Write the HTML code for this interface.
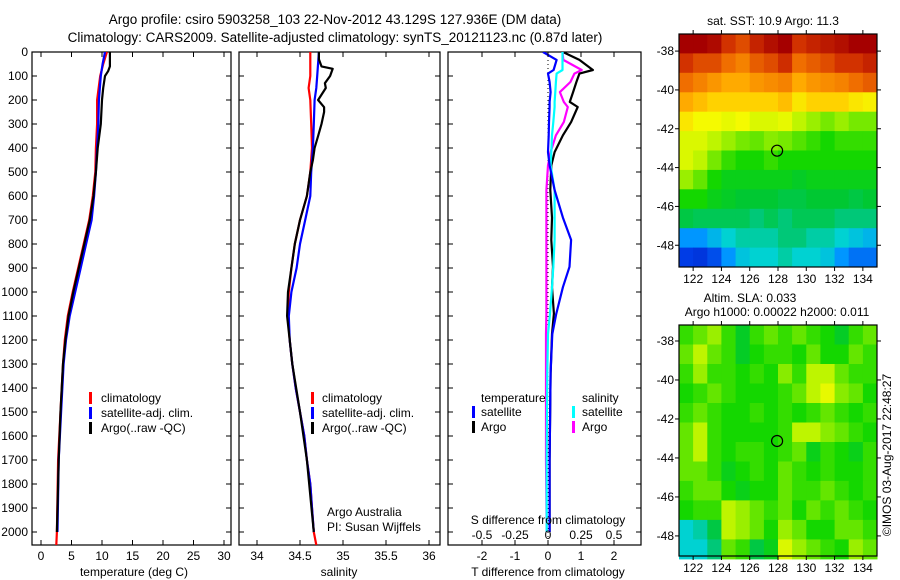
<!DOCTYPE html>
<html><head><meta charset="utf-8">
<style>
html,body{margin:0;padding:0;background:#fff;}
svg{display:block;font-family:"Liberation Sans",sans-serif;}
text{fill:#000;}
</style></head>
<body>
<svg id="fig" width="900" height="580" viewBox="0 0 900 580" xmlns="http://www.w3.org/2000/svg">
<text x="335" y="24" font-size="13.5" text-anchor="middle">Argo profile: csiro 5903258_103 22-Nov-2012 43.129S 127.936E (DM data)</text>
<text x="335" y="42" font-size="13.5" text-anchor="middle">Climatology: CARS2009. Satellite-adjusted climatology: synTS_20121123.nc (0.87d later)</text>
<text x="773" y="25" font-size="12" text-anchor="middle">sat. SST: 10.9 Argo: 11.3</text>
<text x="750" y="302" font-size="12" text-anchor="middle">Altim. SLA: 0.033</text>
<text x="777" y="316" font-size="12" text-anchor="middle">Argo h1000: 0.00022 h2000: 0.011</text>
<text x="0" y="0" font-size="12" text-anchor="middle" transform="translate(891,455) rotate(-90)">©IMOS 03-Aug-2017 22:48:27</text>
<g id="plots"></g>
</svg>
<script>
// ---- data ----
const depthTicks = [0,100,200,300,400,500,600,700,800,900,1000,1100,1200,1300,1400,1500,1600,1700,1800,1900,2000];
const tTicks = [0,5,10,15,20,25,30];
const sTicks = [34,34.5,35,35.5,36];
const dTTicks = [-2,-1,0,1,2];
const dSTicks = [-0.5,-0.25,0,0.25,0.5];
const dSTickLabels = ["-0.5","-0.25","0","0.25","0.5"];
const lonTicks = [122,124,126,128,130,132,134];
const latTicks = [-38,-40,-42,-44,-46,-48];

const tClimDepth = [0,50,100,200,300,400,500,600,700,800,900,1000,1100,1200,1300,1500,1700,2000,2054];
const tClim      = [10.8,10.2,9.7,9.2,9.2,9.0,8.9,8.5,7.9,7.0,6.1,5.2,4.4,3.9,3.6,3.2,2.8,2.6,2.5];
const tSat       = [10.5,10.1,9.8,9.5,9.4,9.2,9.0,8.7,8.3,7.4,6.5,5.6,4.7,4.1,3.7,3.3,2.9,2.7,2.7];
const tArgoDepth = [0,60,80,100,150,200,300,400,500,600,700,800,900,1000,1100,1200,1300,1500,1700,2000];
const tArgo      = [11.3,11.3,11.0,10.5,10.2,10.0,9.8,9.3,9.0,8.6,8.0,7.1,6.2,5.3,4.5,4.0,3.6,3.2,2.9,2.6];

const sClimDepth = [0,100,150,200,300,400,500,600,700,800,900,1000,1100,1200,1300,1400,1500,1600,1700,1800,1900,2000,2054];
const sClim      = [34.62,34.62,34.60,34.62,34.63,34.64,34.62,34.58,34.50,34.44,34.40,34.37,34.36,34.38,34.41,34.45,34.50,34.55,34.58,34.62,34.64,34.66,34.69];
const sSat       = [34.72,34.70,34.69,34.67,34.66,34.65,34.63,34.62,34.56,34.50,34.46,34.40,34.37,34.38,34.41,34.45,34.50,34.55,34.58,34.62,34.64,34.66,34.66];
const sArgoDepth = [0,30,60,70,100,130,150,200,230,250,300,350,400,450,500,600,700,800,900,1000,1100,1200,1300,1500,1700,2000];
const sArgo      = [34.72,34.72,34.75,34.88,34.85,34.79,34.80,34.71,34.78,34.78,34.75,34.71,34.67,34.65,34.62,34.58,34.50,34.44,34.40,34.36,34.35,34.38,34.41,34.50,34.58,34.66];

const dDepth   = [0,33,75,90,125,167,208,229,292,347,417,472,575,690,783,895,980,1090,1175,1337,1700,2000];
const dTSat    = [-0.15,0.26,0.17,0.0,0.05,0.08,0.05,0.05,0.03,0.02,0.0,0.05,0.2,0.45,0.7,0.65,0.45,0.25,0.13,0.08,0.05,0.05];
const dTArgo   = [0.45,0.95,1.36,0.95,0.86,0.76,0.66,0.9,0.7,0.45,0.2,0.1,0.07,0.12,0.1,0.15,0.12,0.18,0.12,0.08,0.05,0.05];
const dSSat    = [0.11,0.11,0.11,0.065,0.06,0.055,0.05,0.05,0.04,0.03,0.025,0.02,0.05,0.05,0.05,0.04,0.03,0.015,0.0,-0.005,-0.01,-0.01];
const dSArgo   = [0.11,0.116,0.255,0.2,0.17,0.09,0.12,0.15,0.12,0.06,0.02,0.0,-0.012,-0.012,-0.012,-0.012,-0.012,-0.012,-0.015,-0.015,-0.015,-0.01];

const sstGrid = [
[0.95,0.95,0.93,0.85,0.82,0.88,0.92,0.95,0.85,0.88,0.9,0.92,0.95,0.95],
[0.85,0.82,0.82,0.78,0.76,0.8,0.82,0.86,0.78,0.8,0.82,0.85,0.85,0.88],
[0.78,0.76,0.74,0.72,0.72,0.74,0.75,0.76,0.72,0.74,0.75,0.76,0.78,0.8],
[0.72,0.7,0.68,0.68,0.68,0.68,0.68,0.7,0.66,0.68,0.68,0.68,0.66,0.65],
[0.66,0.64,0.64,0.63,0.64,0.62,0.62,0.63,0.6,0.58,0.56,0.58,0.56,0.56],
[0.62,0.62,0.6,0.58,0.56,0.55,0.57,0.56,0.54,0.52,0.5,0.52,0.52,0.52],
[0.62,0.6,0.56,0.52,0.5,0.5,0.52,0.5,0.5,0.5,0.5,0.5,0.5,0.5],
[0.58,0.55,0.5,0.48,0.48,0.48,0.48,0.48,0.47,0.48,0.48,0.48,0.48,0.48],
[0.5,0.5,0.48,0.47,0.46,0.46,0.46,0.45,0.45,0.46,0.46,0.46,0.45,0.46],
[0.45,0.44,0.44,0.44,0.44,0.42,0.44,0.42,0.44,0.44,0.44,0.42,0.42,0.42],
[0.3,0.3,0.34,0.38,0.4,0.4,0.4,0.42,0.42,0.4,0.4,0.38,0.36,0.34],
[0.2,0.18,0.22,0.3,0.36,0.38,0.38,0.4,0.38,0.38,0.36,0.3,0.26,0.26]];
const slaGrid = [
[0.52,0.55,0.58,0.52,0.47,0.52,0.55,0.52,0.55,0.52,0.5,0.47,0.52,0.55],
[0.55,0.6,0.55,0.52,0.47,0.5,0.52,0.52,0.5,0.55,0.5,0.5,0.55,0.52],
[0.52,0.58,0.52,0.52,0.5,0.52,0.5,0.57,0.52,0.6,0.6,0.55,0.52,0.52],
[0.5,0.52,0.55,0.52,0.5,0.5,0.5,0.52,0.55,0.6,0.63,0.57,0.55,0.5],
[0.52,0.55,0.52,0.5,0.5,0.52,0.5,0.52,0.5,0.52,0.55,0.52,0.5,0.52],
[0.55,0.6,0.52,0.5,0.5,0.5,0.5,0.52,0.6,0.6,0.57,0.55,0.52,0.5],
[0.55,0.6,0.52,0.5,0.52,0.52,0.5,0.52,0.55,0.48,0.52,0.5,0.48,0.52],
[0.55,0.55,0.52,0.48,0.5,0.52,0.5,0.55,0.52,0.5,0.52,0.5,0.5,0.52],
[0.52,0.55,0.55,0.5,0.48,0.5,0.5,0.55,0.52,0.52,0.55,0.52,0.5,0.52],
[0.5,0.52,0.52,0.6,0.58,0.55,0.52,0.55,0.5,0.55,0.52,0.55,0.52,0.5],
[0.38,0.4,0.45,0.6,0.58,0.55,0.5,0.58,0.55,0.5,0.5,0.55,0.55,0.52],
[0.38,0.38,0.42,0.55,0.52,0.45,0.48,0.62,0.58,0.55,0.52,0.5,0.58,0.55]];
const argoLon = 127.936, argoLat = -43.129;

// ---- drawing ----
const NS='http://www.w3.org/2000/svg';
const root=document.getElementById('plots');
function mk(tag,attrs,parent){const e=document.createElementNS(NS,tag);for(const k in attrs)e.setAttribute(k,attrs[k]);(parent||root).appendChild(e);return e;}
function txt(s,x,y,anchor,size,parent){const t=mk('text',{x:x,y:y,'text-anchor':anchor||'middle','font-size':size||12},parent);t.textContent=s;return t;}

const TOP=52, BOT=545;
const yD = d => TOP + d*0.24;
function panel(name,x0,x1){
  const g=mk('g',{});
  
  
  const r=mk('rect',{x:x0,y:TOP,width:x1-x0,height:BOT-TOP,fill:'none',stroke:'#000','stroke-width':1.2},g);
  
  
  depthTicks.forEach(d=>{
    mk('line',{x1:x0,x2:x0+5,y1:yD(d),y2:yD(d),stroke:'#000'},g);
    mk('line',{x1:x1-5,x2:x1,y1:yD(d),y2:yD(d),stroke:'#000'},g);
  });
  const cid='clip-'+name;
  const cp=mk('clipPath',{id:cid},g);
  mk('rect',{x:x0,y:TOP,width:x1-x0,height:BOT-TOP},cp);
  const inner=mk('g',{'clip-path':'url(#'+cid+')'},g);
  return {g,inner};
}
function xTicks(g,vals,labels,xf,yLab){
  vals.forEach((v,i)=>{
    const x=xf(v);
    mk('line',{x1:x,x2:x,y1:TOP,y2:TOP+5,stroke:'#000'},g);
    mk('line',{x1:x,x2:x,y1:BOT-5,y2:BOT,stroke:'#000'},g);
    const t=txt(labels?labels[i]:String(v),x,yLab,'middle',12,g);
    
    
  });
}
function line(parent,name,xs,ds,xf,color){
  const pts=xs.map((v,i)=>xf(v).toFixed(1)+','+yD(ds[i]).toFixed(1)).join(' ');
  const p=mk('polyline',{points:pts,fill:'none',stroke:color,'stroke-width':2.2,'stroke-linejoin':'round'},parent);
  
  
}
function legendEntry(parent,name,label,color,bx,tx,y){
  const g=mk('g',{},parent);
  
  
  mk('rect',{x:bx,y:y-10,width:3,height:12,fill:color},g);
  txt(label,tx,y,'start',12,g);
}

depthTicks.forEach(d=>{
  const t=txt(String(d),28,yD(d)+4,'end',12);
  
  
});

// Panel 1: temperature
const xT = v => 41 + v*6.1;
const p1=panel('temperature-panel',32,231);
xTicks(p1.g,tTicks,null,xT,560);
const xl1=txt('temperature (deg C)',134,576,'middle',12);


line(p1.inner,'temp-climatology-line',tClim,tClimDepth,xT,'#f00');
line(p1.inner,'temp-satellite-line',tSat.slice(0,-1),tClimDepth.slice(0,-1),xT,'#00f');
line(p1.inner,'temp-argo-line',tArgo,tArgoDepth,xT,'#000');
legendEntry(p1.g,'legend-climatology','climatology','#f00',89,101,402);
legendEntry(p1.g,'legend-satellite-adj','satellite-adj. clim.','#00f',89,101,417);
legendEntry(p1.g,'legend-argo','Argo(..raw -QC)','#000',89,101,432);

// Panel 2: salinity
const xS = v => 257 + (v-34)*86;
const p2=panel('salinity-panel',239,440);
xTicks(p2.g,sTicks,null,xS,560);
const xl2=txt('salinity',339,576,'middle',12);


line(p2.inner,'sal-climatology-line',sClim,sClimDepth,xS,'#f00');
line(p2.inner,'sal-satellite-line',sSat.slice(0,-1),sClimDepth.slice(0,-1),xS,'#00f');
line(p2.inner,'sal-argo-line',sArgo,sArgoDepth,xS,'#000');
legendEntry(p2.g,'legend-climatology-2','climatology','#f00',311,322,402);
legendEntry(p2.g,'legend-satellite-adj-2','satellite-adj. clim.','#00f',311,322,417);
legendEntry(p2.g,'legend-argo-2','Argo(..raw -QC)','#000',311,322,432);
const cr1=txt('Argo Australia',327,516,'start',12,p2.g);


const cr2=txt('PI: Susan Wijffels',327,531,'start',12,p2.g);



// Panel 3: differences
const xDT = v => 548 + v*33;
const xDS = v => 548 + v*132;
const p3=panel('difference-panel',448,641);
xTicks(p3.g,dTTicks,null,xDT,560);
dSTicks.forEach((v,i)=>{const t=txt(dSTickLabels[i],xDS(v),539,'middle',12,p3.g);
  
  });
const sdt=txt('S difference from climatology',548,524,'middle',12,p3.g);


const xl3=txt('T difference from climatology',548,576,'middle',12);


const zl=mk('line',{x1:xDT(0),x2:xDT(0),y1:TOP,y2:BOT,stroke:'#000','stroke-dasharray':'1,3'},p3.inner);


line(p3.inner,'t-diff-argo-line',dTArgo,dDepth,xDT,'#000');
line(p3.inner,'s-diff-argo-line',dSArgo,dDepth,xDS,'#f0f');
line(p3.inner,'s-diff-satellite-line',dSSat,dDepth,xDS,'#0ff');
line(p3.inner,'t-diff-satellite-line',dTSat,dDepth,xDT,'#00f');
const lt=txt('temperature',481,402,'start',12,p3.g);


const ls=txt('salinity',582,402,'start',12,p3.g);


legendEntry(p3.g,'legend-t-satellite','satellite','#00f',472,481,416);
legendEntry(p3.g,'legend-t-argo','Argo','#000',472,481,431);
legendEntry(p3.g,'legend-s-satellite','satellite','#0ff',572,582,416);
legendEntry(p3.g,'legend-s-argo','Argo','#f0f',572,582,431);

// Maps - colour scale stops (styling, not data)
const cmapStops=[[0,[0,0,140]],[0.2,[0,60,230]],[0.3,[0,150,255]],[0.38,[0,210,210]],[0.42,[0,200,120]],[0.46,[0,200,50]],[0.5,[20,215,0]],[0.55,[100,230,0]],[0.6,[190,245,0]],[0.64,[245,250,0]],[0.68,[255,210,0]],[0.72,[255,170,0]],[0.78,[240,110,0]],[0.85,[210,50,0]],[0.95,[165,0,0]],[1,[150,0,0]]];
function cmap(v){
  for(let i=1;i<cmapStops.length;i++){
    const [a,ca]=cmapStops[i-1],[b,cb]=cmapStops[i];
    if(v<=b){const t=Math.max(0,(v-a)/(b-a));return 'rgb('+ca.map((c,k)=>Math.round(c+(cb[k]-c)*t)).join(',')+')';}
  }
  return 'rgb(150,0,0)';
}
function map(name,grid,x0,x1,y0,y1,latTop,latBot){
  const g=mk('g',{});
  
  
  const lonL=121, lonR=135;
  const xL=v=>x0+(v-lonL)/(lonR-lonL)*(x1-x0);
  const yL=v=>y0+(latTop-v)/(latTop-latBot)*(y1-y0);
  grid.forEach((row,ri)=>row.forEach((v,ci)=>{
    const a=yL(latTop-ri), b=yL(latTop-ri-1);
    const cell=mk('rect',{x:xL(lonL+ci).toFixed(1),y:a.toFixed(1),width:(xL(lonL+ci+1)-xL(lonL+ci)+0.5).toFixed(1),height:(b-a+0.5).toFixed(1),fill:cmap(v)},g);
    
    
  }));
  const fr=mk('rect',{x:x0,y:y0,width:x1-x0,height:y1-y0,fill:'none',stroke:'#000','stroke-width':1.2},g);
  
  
  lonTicks.forEach(v=>{
    const x=xL(v);
    mk('line',{x1:x,x2:x,y1:y0-4,y2:y0,stroke:'#000'},g);
    mk('line',{x1:x,x2:x,y1:y1,y2:y1+4,stroke:'#000'},g);
    const t=txt(String(v),x,y1+16,'middle',12,g);
    
    
  });
  latTicks.forEach(v=>{
    const y=yL(v);
    mk('line',{x1:x0-4,x2:x0,y1:y,y2:y,stroke:'#000'},g);
    mk('line',{x1:x1,x2:x1+4,y1:y,y2:y,stroke:'#000'},g);
    const t=txt(String(v),x0-5,y+4,'end',12,g);
    
    
  });
  const m=mk('circle',{cx:xL(argoLon),cy:yL(argoLat),r:5.5,fill:'none',stroke:'#000','stroke-width':1.2},g);
  
  
}
map('sst-map',sstGrid,679,877,34,267,-37.12,-49.12);
map('sla-map',slaGrid,679,877,325,556,-37.18,-49.03);
</script>
</body></html>
